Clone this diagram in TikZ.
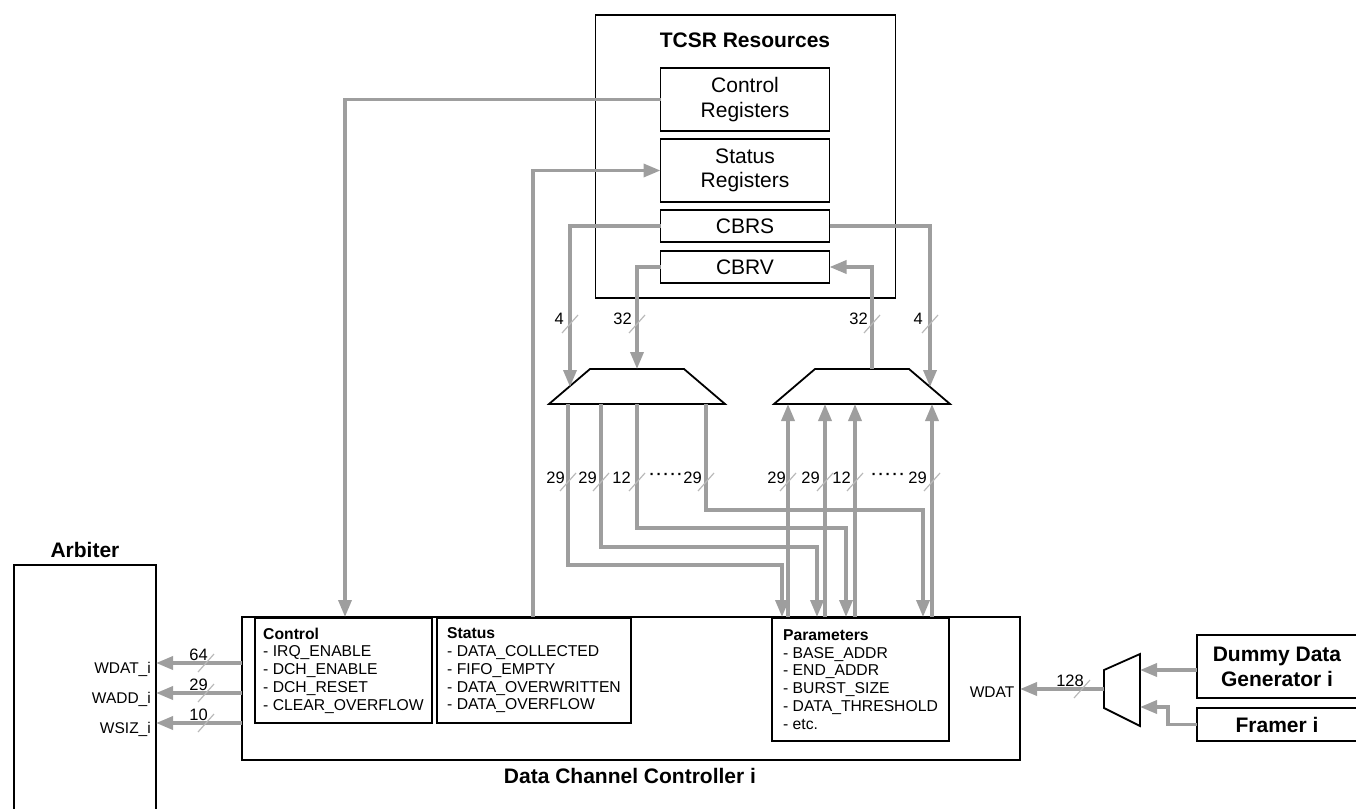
\documentclass[tikz,border=0pt]{standalone}
\usepackage{fontspec}
\setmainfont{Liberation Sans}
\usetikzlibrary{arrows.meta, positioning}

\definecolor{busgray}{RGB}{158,158,158}
\definecolor{slashgray}{RGB}{185,185,185}

\begin{document}
\begin{tikzpicture}[
    x=1pt, y=-1pt,
    box/.style={draw, line width=1.8pt, inner sep=0pt, outer sep=0pt, align=center},
    reg/.style={box, minimum width=169pt, font=\fontsize{21}{24.5}\selectfont},
    field/.style={draw, line width=1.8pt, anchor=north west, align=left, inner sep=0pt,
      outer sep=0pt, font=\fontsize{15.7}{17.75}\selectfont},
    title/.style={inner sep=0pt, font=\fontsize{21}{25}\selectfont\bfseries},
    port/.style={inner sep=0pt, font=\fontsize{15.5}{18}\selectfont},
    bw/.style={inner sep=0pt, anchor=east, font=\fontsize{16.5}{18}\selectfont},
    bus/.style={draw=busgray, line width=3.5pt},
    slash/.style={draw=slashgray, line width=1.2pt},
    mux/.style={draw, line width=1.8pt, line join=miter},
    >={Triangle[length=17pt, width=13pt]}
  ]
  \useasboundingbox (0,0) rectangle (1356,808);
  \clip (0,0) rectangle (1356,808);

  % TCSR block
  \node[box, minimum width=300pt, minimum height=283pt] (tcsr) at (745.5,156.5) {};
  \node[title] (tcsrtitle) at (745,40) {TCSR Resources};
  \node[reg, minimum height=63pt] (ctrlreg) at (745,99.5) {Control\\Registers};
  \node[reg, minimum height=63pt, below=8pt of ctrlreg] (statreg) {Status\\Registers};
  \node[reg, minimum height=32pt, below=8pt of statreg] (cbrs) {CBRS};
  \node[reg, minimum height=32pt, below=9pt of cbrs] (cbrv) {CBRV};

  % multiplexers
  \draw[mux] (549,404) -- (590,369) -- (684,369) -- (725,404) -- cycle;
  \draw[mux] (774,404) -- (815,369) -- (909,369) -- (950,404) -- cycle;
  \draw[mux] (1104,670) -- (1140,654) -- (1140,726) -- (1104,708) -- cycle;

  % data channel controller
  \node[box, minimum width=778pt, minimum height=143pt] (dcc) at (631,688.5) {};
  \node[title] (dcctitle) at (630,776) {Data Channel Controller i};
  \node[field, minimum width=177pt, minimum height=105pt] (ctlfield) at (255,618)
    {\textbf{Control}\\- IRQ\_ENABLE\\- DCH\_ENABLE\\- DCH\_RESET\\- CLEAR\_OVERFLOW};
  \node[field, minimum width=194pt, minimum height=105pt] (statfield) at (437,618)
    {\textbf{Status}\\- DATA\_COLLECTED\\- FIFO\_EMPTY\\- DATA\_OVERWRITTEN\\- DATA\_OVERFLOW};
  \node[field, minimum width=177pt, minimum height=123pt] (parfield) at (772,618)
    {\textbf{Parameters}\\- BASE\_ADDR\\- END\_ADDR\\- BURST\_SIZE\\- DATA\_THRESHOLD\\- etc.};
  \node[port] (wdat) at (992,692) {WDAT};

  % arbiter
  \node[box, minimum width=142pt, minimum height=290pt] (arbiter) at (85,710) {};
  \node[title] (arbtitle) at (85,550) {Arbiter};
  \node[port, anchor=base east] (wdati) at (151,673) {WDAT\_i};
  \node[port, anchor=base east] (waddi) at (151,703) {WADD\_i};
  \node[port, anchor=base east] (wsizi) at (151,733) {WSIZ\_i};

  % sources
  \node[box, minimum width=160pt, minimum height=63pt, font=\fontsize{21}{25}\selectfont\bfseries]
    (dummy) at (1277,666.5) {Dummy Data\\Generator i};
  \node[box, minimum width=160pt, minimum height=33pt, font=\fontsize{21}{25}\selectfont\bfseries]
    (framer) at (1277,724.5) {Framer i};

  % end points on the muxes and the controller
  \coordinate (lmuxin) at (570,387);
  \coordinate (lmuxsel) at (637,369);
  \coordinate (rmuxin) at (930,387);
  \coordinate (rmuxout) at (872,369);
  \coordinate (dccctl) at (345,617);
  \coordinate (dccst) at (533,617);
  \coordinate (lo1) at (568,404);
  \coordinate (lo2) at (601,404);
  \coordinate (lo3) at (637,404);
  \coordinate (lo4) at (706,404);
  \coordinate (po1) at (782,617);
  \coordinate (po2) at (817,617);
  \coordinate (po3) at (846,617);
  \coordinate (po4) at (923,617);
  \coordinate (ri1) at (788,404);
  \coordinate (ri2) at (825,404);
  \coordinate (ri3) at (855,404);
  \coordinate (ri4) at (932,404);
  \coordinate (pi1) at (788,617);
  \coordinate (pi2) at (825,617);
  \coordinate (pi3) at (855,617);
  \coordinate (pi4) at (932,617);
  \coordinate (dwdat) at (242,663);
  \coordinate (dwadd) at (242,693);
  \coordinate (dwsiz) at (242,723);
  \coordinate (smuxout) at (1104,689);
  \coordinate (smuxin1) at (1140,670);
  \coordinate (smuxin2) at (1140,707);

  % register connections
  \draw[bus,->] (ctrlreg.west) -| (dccctl);
  \draw[bus,->] (dccst) |- (statreg.west);
  \draw[bus,->] (cbrs.west) -| (lmuxin);
  \draw[bus,->] (cbrv.west) -| (lmuxsel);
  \draw[bus,->] (cbrs.east) -| (rmuxin);
  \draw[bus,->] (rmuxout) |- (cbrv.east);

  % parameter buses
  \draw[bus,->] (lo1) -- ++(0,161) -| (po1);
  \draw[bus,->] (lo2) -- ++(0,143) -| (po2);
  \draw[bus,->] (lo3) -- ++(0,124) -| (po3);
  \draw[bus,->] (lo4) -- ++(0,106) -| (po4);
  \draw[bus,->] (pi1) -- (ri1);
  \draw[bus,->] (pi2) -- (ri2);
  \draw[bus,->] (pi3) -- (ri3);
  \draw[bus,->] (pi4) -- (ri4);

  % write ports
  \draw[bus,->] (dwdat) -- (dwdat -| arbiter.east);
  \draw[bus,->] (dwadd) -- (dwadd -| arbiter.east);
  \draw[bus,->] (dwsiz) -- (dwsiz -| arbiter.east);
  \draw[bus,->] (smuxout) -- (smuxout -| dcc.east);
  \draw[bus,->] (dummy.west |- smuxin1) -- (smuxin1);
  \draw[bus,->] (framer.west) -- ++(-29,0) |- (smuxin2);

  % bus widths
  \draw[slash] (570,324) +(-8,9) -- +(8,-9);
  \node[bw] (w4l) at (564,319) {4};
  \draw[slash] (637,324) +(-8,9) -- +(8,-9);
  \node[bw] (w32l) at (632,319) {32};
  \draw[slash] (872,324) +(-8,9) -- +(8,-9);
  \node[bw] (w32r) at (868,319) {32};
  \draw[slash] (930,324) +(-8,9) -- +(8,-9);
  \node[bw] (w4r) at (923,319) {4};

  \draw[slash] (568,482) +(-8,9) -- +(8,-9);
  \node[bw] (wl1) at (565,478) {29};
  \draw[slash] (601,482) +(-8,9) -- +(8,-9);
  \node[bw] (wl2) at (597,478) {29};
  \draw[slash] (637,482) +(-8,9) -- +(8,-9);
  \node[bw] (wl3) at (631,478) {12};
  \node[inner sep=0pt, font=\fontsize{15}{18}\selectfont\bfseries] (dotsl) at (666,476) {·\hspace{2pt}·\hspace{2pt}·\hspace{2pt}·\hspace{2pt}·};
  \draw[slash] (706,482) +(-8,9) -- +(8,-9);
  \node[bw] (wl4) at (702,478) {29};

  \draw[slash] (788,482) +(-8,9) -- +(8,-9);
  \node[bw] (wr1) at (786,478) {29};
  \draw[slash] (825,482) +(-8,9) -- +(8,-9);
  \node[bw] (wr2) at (820,478) {29};
  \draw[slash] (855,482) +(-8,9) -- +(8,-9);
  \node[bw] (wr3) at (851,478) {12};
  \node[inner sep=0pt, font=\fontsize{15}{18}\selectfont\bfseries] (dotsr) at (888,476) {·\hspace{2pt}·\hspace{2pt}·\hspace{2pt}·\hspace{2pt}·};
  \draw[slash] (932,482) +(-8,9) -- +(8,-9);
  \node[bw] (wr4) at (927,478) {29};

  \draw[slash] (206,663) +(-8,9) -- +(8,-9);
  \node[bw] (w64) at (208,655) {64};
  \draw[slash] (206,693) +(-8,9) -- +(8,-9);
  \node[bw] (w29) at (208,685) {29};
  \draw[slash] (206,723) +(-8,9) -- +(8,-9);
  \node[bw] (w10) at (208,715) {10};
  \draw[slash] (1082,689) +(-8,9) -- +(8,-9);
  \node[bw] (w128) at (1084,681) {128};
\end{tikzpicture}
\end{document}
